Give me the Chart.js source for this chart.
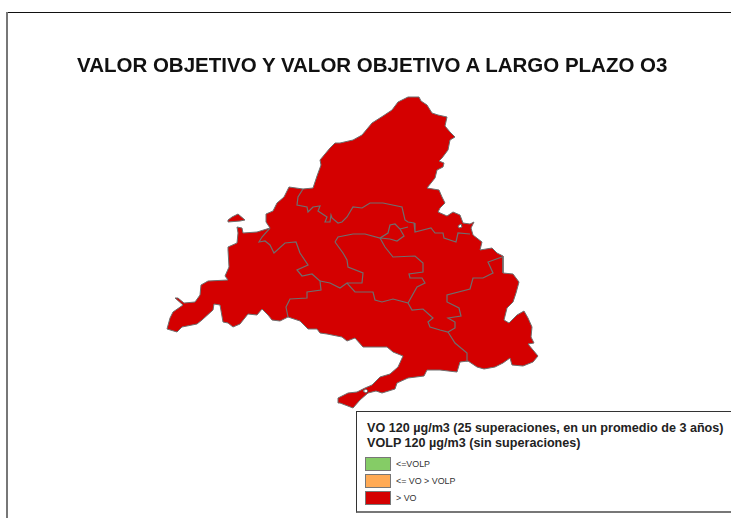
<!DOCTYPE html>
<html lang="es">
<head>
  <meta charset="UTF-8">
  <title>Valor objetivo O3</title>
  <script src="https://cdn.jsdelivr.net/npm/chart.js"></script>
  <style>
    html, body { margin: 0; padding: 0; background: #fff; overflow: hidden; }
    #page { position: relative; width: 731px; height: 518px; font-family: "Liberation Sans", Arial, sans-serif; }
    #map { position: absolute; left: 0; top: 0; }
    #frameTop { position: absolute; left: 6px; right: 0; top: 12px; height: 1px; background: #111; }
    #frameLeft { position: absolute; left: 6px; top: 12px; bottom: 0; width: 2px; background: #777; }
    h1 { position: absolute; left: 77px; top: 54px; margin: 0; font-size: 20.5px; line-height: 22px; font-weight: bold; color: #111; white-space: nowrap; }
    #legend { position: absolute; left: 356px; top: 411px; width: 375px; height: 99px; box-sizing: content-box; border-left: 1px solid #333; border-top: 1px solid #333; border-bottom: 2px solid #777; background: #fff; }
    #legend .head { position: absolute; left: 10px; top: 9px; font-size: 12.6px; line-height: 15px; font-weight: bold; color: #222; white-space: nowrap; }
    #legend .row { position: absolute; left: 8px; height: 14px; font-size: 8.9px; line-height: 14px; color: #333; white-space: nowrap; }
    #legend .swatch { display: inline-block; width: 24px; height: 12px; border: 1px solid #777; vertical-align: top; margin-right: 5px; }
  </style>
</head>
<body>
<div id="page">
  <canvas id="map" width="731" height="518"></canvas>
  <div id="frameTop"></div>
  <div id="frameLeft"></div>
  <h1 id="title"></h1>
  <div id="legend">
    <div class="head" id="legendHead"></div>
  </div>
</div>

<script>
  const titleText = 'VALOR OBJETIVO Y VALOR OBJETIVO A LARGO PLAZO O3';
  const legendLines = ['VO 120 µg/m3 (25 superaciones, en un promedio de 3 años)', 'VOLP 120 µg/m3 (sin superaciones)'];
  const classLabels = ['<=VOLP', '<= VO > VOLP', '> VO'];
  const classColors = ['#85cc66', '#ffaa55', '#d40000'];

  // outline and borders (x, y in picture pixels)
  const outline = [
    [419,97],[421,101],[427,105],[432,113],[438,115],[447,117],[445,126],[450,132],[455,137],[450,140],
    [448,150],[442,158],[439,161],[444,163],[443,167],[437,170],[435,178],[427,188],[439,190],[442,197],
    [445,203],[440,208],[438,212],[447,216],[453,212],[460,215],[463,223],[470,224],[474,222],[471,228],
    [473,235],[482,242],[480,250],[492,248],[497,253],[503,256],[503,273],[513,274],[519,282],[516,293],
    [513,302],[507,308],[504,320],[509,323],[517,315],[524,311],[528,318],[532,327],[531,337],[534,343],
    [528,344],[533,350],[538,356],[533,362],[523,366],[512,365],[510,358],[503,363],[495,367],[484,369],
    [477,367],[468,361],[460,362],[457,372],[440,370],[427,370],[424,376],[408,378],[397,383],[395,389],
    [382,393],[376,391],[368,393],[360,400],[353,408],[340,403],[338,403],[338,398],[348,393],[357,392],
    [365,388],[372,385],[380,377],[390,374],[398,367],[403,356],[393,352],[387,347],[373,347],[363,347],
    [355,338],[347,341],[342,337],[327,334],[320,333],[317,329],[308,329],[300,321],[288,317],[280,321],
    [272,320],[268,315],[262,309],[257,315],[248,314],[240,324],[233,327],[228,323],[223,322],[220,305],
    [214,304],[213,310],[202,320],[197,324],[182,327],[177,332],[167,329],[170,318],[173,312],[183,305],
    [175,298],[178,298],[184,303],[195,302],[200,295],[201,285],[208,281],[228,280],[225,276],[229,267],
    [228,250],[228,247],[237,243],[238,233],[237,227],[242,228],[243,233],[257,232],[270,228],[266,222],
    [266,214],[273,211],[277,203],[284,197],[289,187],[303,189],[313,188],[317,176],[321,165],[320,160],
    [330,148],[335,143],[340,143],[353,140],[362,135],[372,123],[383,116],[392,110],[398,102],[408,97]
  ];
  const island = [[228,220],[232,217],[238,214],[245,220],[240,221],[228,222]];
  const holeEast = [[458,226],[461,224],[462,227],[459,228]];
  const holeTail = [[363,391],[366,389],[368,391],[366,393]];

  const borderNorth = [
    [303,189],[298,197],[297,205],[307,207],[308,212],[313,207],[320,206],[318,211],[327,217],[325,222],
    [330,222],[331,215],[332,218],[338,223],[342,222],[347,217],[353,207],[362,208],[370,203],[383,203],
    [402,207],[405,220],[408,222],[414,223],[415,232],[431,228],[435,233],[443,233],[444,238],[456,242],
    [458,233],[470,234]
  ];
  const borderWest = [
    [270,228],[262,237],[259,242],[265,241],[270,245],[274,253],[285,243],[296,242],[300,253],[308,265],
    [297,270],[302,276],[312,274],[320,281],[321,290],[307,292],[307,298],[290,299],[286,307],[288,317]
  ];
  const borderCentre = [
    [320,281],[330,283],[340,288],[347,283],[355,292],[373,292],[375,300],[382,302],[393,299],[408,303],
    [412,310],[423,309],[433,318],[428,322],[430,327],[440,330],[448,332],[455,328],[455,322],[448,318],
    [461,316],[459,308],[447,302],[447,295],[470,289],[473,278],[483,278],[493,273],[488,262],[502,257]
  ];
  const borderSouth = [[448,332],[455,343],[467,353],[467,362]];
  const borderEast = [
    [408,303],[417,287],[425,283],[422,278],[410,278],[409,274],[423,272],[423,263],[415,256],[393,257],
    [385,247],[380,238]
  ];
  const borderLoop = [
    [335,242],[338,237],[353,234],[365,234],[380,238],[388,233],[390,225],[395,224],[400,229],[404,236],
    [397,241],[390,239],[380,238]
  ];
  const borderInner = [
    [335,242],[343,253],[347,260],[348,267],[363,273],[362,283],[347,283]
  ];
  const borderNotch = [[408,227],[400,229]];

  const toPoints = list => list.map(p => ({ x: p[0], y: p[1] }));

  const fillSet = (list, colour, order) => ({
    data: toPoints(list.concat([list[0]])),
    showLine: true,
    fill: 'shape',
    backgroundColor: colour,
    borderColor: '#6e6e6e',
    borderWidth: 1,
    pointRadius: 0,
    tension: 0,
    order: order
  });
  const lineSet = list => ({
    data: toPoints(list),
    showLine: true,
    fill: false,
    borderColor: '#6e6e6e',
    borderWidth: 1.2,
    pointRadius: 0,
    tension: 0,
    order: 1
  });

  new Chart(document.getElementById('map'), {
    type: 'scatter',
    data: {
      datasets: [
        fillSet(outline, classColors[2], 3),
        fillSet(island, classColors[2], 3),
        fillSet(holeEast, '#ffffff', 2),
        fillSet(holeTail, '#ffffff', 2),
        lineSet(borderNorth),
        lineSet(borderWest),
        lineSet(borderCentre),
        lineSet(borderSouth),
        lineSet(borderEast),
        lineSet(borderLoop),
        lineSet(borderInner),
        lineSet(borderNotch)
      ]
    },
    options: {
      responsive: false,
      animation: false,
      layout: { padding: 0 },
      plugins: { legend: { display: false }, tooltip: { enabled: false }, title: { display: false } },
      scales: {
        x: { type: 'linear', display: false, min: 0, max: 731 },
        y: { type: 'linear', display: false, min: 0, max: 518, reverse: true }
      }
    }
  });

  document.getElementById('title').textContent = titleText;
  document.getElementById('legendHead').innerHTML = legendLines.join('<br>');
  const legendBox = document.getElementById('legend');
  classLabels.forEach((label, i) => {
    const row = document.createElement('div');
    row.className = 'row';
    row.style.top = (45 + i * 17) + 'px';
    const swatch = document.createElement('span');
    swatch.className = 'swatch';
    swatch.style.background = classColors[i];
    row.appendChild(swatch);
    row.appendChild(document.createTextNode(label));
    legendBox.appendChild(row);
  });
</script>
</body>
</html>
